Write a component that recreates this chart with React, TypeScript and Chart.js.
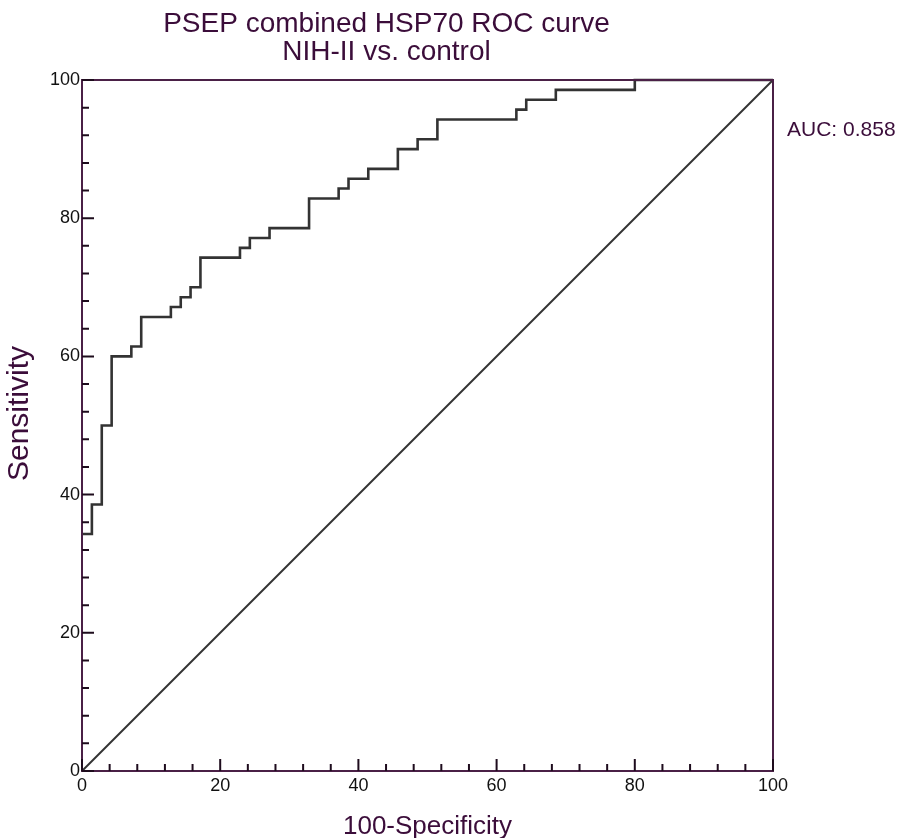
import React, { useEffect, useRef } from "react";
import { Chart, registerables } from "chart.js";

Chart.register(...registerables);

// ---- data ----
const TITLE_LINES = ["PSEP combined HSP70 ROC curve", "NIH-II vs. control"];
const X_TITLE = "100-Specificity";
const Y_TITLE = "Sensitivity";
const AUC_LABEL = "AUC: 0.858";

// ROC curve vertices (100-Specificity, Sensitivity)
const fprValues = [0, 1.43, 2.86, 4.29, 7.14, 8.57, 12.86, 14.29, 15.71, 17.14, 22.86, 24.29, 27.14, 32.86, 37.14, 38.57, 41.43, 45.71, 48.57, 51.43, 62.86, 64.29, 68.57, 80, 100];
const tprValues = [34.29, 38.57, 50, 60, 61.43, 65.71, 67.14, 68.57, 70, 74.29, 75.71, 77.14, 78.57, 82.86, 84.29, 85.71, 87.14, 90, 91.43, 94.29, 95.71, 97.14, 98.57, 100, 100];

// reference diagonal
const diagonalX = [0, 100];
const diagonalY = [0, 100];

const AXIS_MIN = 0;
const AXIS_MAX = 100;
const MAJOR_STEP = 20;
const MINOR_STEP = 4;

// ---- style ----
const PURPLE = "#3b0d3a";
const AXIS_PURPLE = "#4a2046";
const TICK_COLOR = "#1e0c1d";
const CURVE = "#333333";
const FONT = '"Liberation Sans", Arial, Helvetica, sans-serif';

const framePlugin = {
  id: "rocFrame",
  afterDraw(chart: any) {
    const { ctx, chartArea } = chart;
    const { left, right, top, bottom } = chartArea;
    const xs = chart.scales.x;
    const ys = chart.scales.y;
    ctx.save();
    // top and right frame
    ctx.strokeStyle = AXIS_PURPLE;
    ctx.lineWidth = 2;
    ctx.beginPath();
    ctx.moveTo(left, top);
    ctx.lineTo(right, top);
    ctx.lineTo(right, bottom);
    ctx.stroke();
    // inward tick marks
    ctx.strokeStyle = TICK_COLOR;
    ctx.lineWidth = 2;
    for (let v = AXIS_MIN; v <= AXIS_MAX; v += MINOR_STEP) {
      const major = v % MAJOR_STEP === 0;
      const len = major ? 12 : 7;
      const px = xs.getPixelForValue(v);
      const py = ys.getPixelForValue(v);
      ctx.beginPath();
      ctx.moveTo(px, bottom);
      ctx.lineTo(px, bottom - len);
      ctx.moveTo(left, py);
      ctx.lineTo(left + len, py);
      ctx.stroke();
    }
    // y axis title
    ctx.fillStyle = PURPLE;
    ctx.font = `30px ${FONT}`;
    ctx.textAlign = "center";
    ctx.textBaseline = "middle";
    ctx.save();
    ctx.translate(20, (top + bottom) / 2 - 12);
    ctx.rotate(-Math.PI / 2);
    ctx.fillText(Y_TITLE, 0, 0);
    ctx.restore();
    // AUC label
    ctx.font = `21px ${FONT}`;
    ctx.textAlign = "left";
    ctx.textBaseline = "middle";
    ctx.fillText(AUC_LABEL, right + 14, top + 50);
    ctx.restore();
  },
};

export default function App() {
  const canvasRef = useRef<HTMLCanvasElement | null>(null);

  useEffect(() => {
    const canvas = canvasRef.current;
    if (!canvas) return;
    const rocPoints = fprValues.map((x, i) => ({ x, y: tprValues[i] }));
    const diagPoints = diagonalX.map((x, i) => ({ x, y: diagonalY[i] }));

    const chart = new Chart(canvas, {
      type: "line",
      data: {
        datasets: [
          {
            label: "ROC",
            data: rocPoints,
            borderColor: CURVE,
            borderWidth: 2.6,
            stepped: "before",
            pointRadius: 0,
            fill: false,
            clip: false,
            borderJoinStyle: "miter",
          } as any,
          {
            label: "Reference",
            data: diagPoints,
            borderColor: CURVE,
            borderWidth: 2,
            pointRadius: 0,
            fill: false,
            clip: false,
          } as any,
        ],
      },
      options: {
        responsive: false,
        animation: false,
        devicePixelRatio: 1,
        layout: { padding: { left: 0, right: 125, top: 0, bottom: 0 } },
        plugins: {
          legend: { display: false },
          tooltip: { enabled: false },
          title: {
            display: true,
            text: TITLE_LINES,
            color: PURPLE,
            font: { family: FONT, size: 28, weight: "normal", lineHeight: 1 },
            padding: { top: 10, bottom: 14 },
          },
        },
        scales: {
          x: {
            type: "linear",
            min: AXIS_MIN,
            max: AXIS_MAX,
            grid: { display: false, drawTicks: false },
            border: { display: true, color: AXIS_PURPLE, width: 2, z: 1 },
            ticks: {
              stepSize: MAJOR_STEP,
              color: "#111111",
              font: { family: FONT, size: 18 },
              padding: 4,
              maxRotation: 0,
              autoSkip: false,
            },
            title: {
              display: true,
              text: X_TITLE,
              color: PURPLE,
              font: { family: FONT, size: 26, lineHeight: 0.85 },
              padding: { top: 0, bottom: 0 },
            },
            afterFit: (s: any) => {
              s.height = 67;
            },
          },
          y: {
            type: "linear",
            min: AXIS_MIN,
            max: AXIS_MAX,
            grid: { display: false, drawTicks: false },
            border: { display: true, color: AXIS_PURPLE, width: 2, z: 1 },
            ticks: {
              stepSize: MAJOR_STEP,
              color: "#111111",
              font: { family: FONT, size: 18 },
              padding: 2,
              autoSkip: false,
            },
            title: { display: false },
            afterFit: (s: any) => {
              s.width = 82;
            },
          },
        },
      },
      plugins: [framePlugin],
    });

    return () => chart.destroy();
  }, []);

  return (
    <div style={{ position: "fixed", left: 0, top: 0, width: 898, height: 838, background: "#ffffff" }}>
      <canvas ref={canvasRef} width={898} height={838} style={{ width: 898, height: 838 }} />
    </div>
  );
}
